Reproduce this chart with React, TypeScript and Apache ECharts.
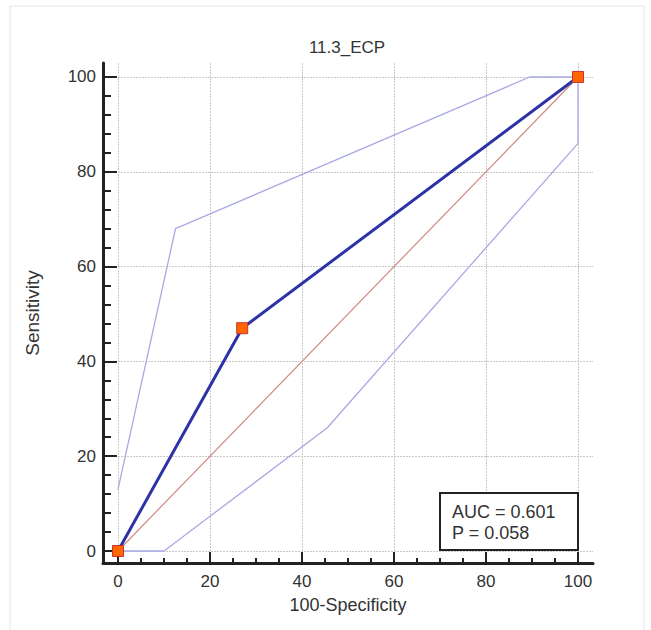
import React, { useEffect, useRef } from "react";
import * as echarts from "echarts";

// ---- data ----
const chartTitle = "11.3_ECP";
const xName = "100-Specificity";
const yName = "Sensitivity";

const rocX = [0, 27, 100];
const rocY = [0, 47, 100];

const upperX = [0, 12.5, 89.5, 100];
const upperY = [13, 68, 100, 100];

const lowerX = [0, 10, 45.5, 100, 100];
const lowerY = [0, 0, 26, 86, 100];

const diagX = [0, 100];
const diagY = [0, 100];

const xMajor = [0, 20, 40, 60, 80, 100];
const xMinor = [5, 10, 15, 25, 30, 35, 45, 50, 55, 65, 70, 75, 85, 90, 95];
const yMajor = [0, 20, 40, 60, 80, 100];
const yMinor = [4, 8, 12, 16, 24, 28, 32, 36, 44, 48, 52, 56, 64, 68, 72, 76, 84, 88, 92, 96];

const aucLine = "AUC = 0.601";
const pLine = "P = 0.058";

const FONT = "'Liberation Sans', Arial, sans-serif";

function pairs(xs: number[], ys: number[]) {
  return xs.map((x, i) => [x, ys[i]]);
}

export default function App() {
  const ref = useRef<HTMLDivElement>(null);

  useEffect(() => {
    if (!ref.current) return;
    const chart = echarts.init(ref.current, undefined, { renderer: "svg" });

    const X_MIN = -3.26, X_MAX = 103.26;
    const Y_MIN = -2.53, Y_MAX = 102.95;
    const gridRect = { left: 103, top: 63, width: 490, height: 500 };

    const option: any = {
      animation: false,
      backgroundColor: "#ffffff",
      grid: [
        { ...gridRect, containLabel: false },
        { ...gridRect, containLabel: false },
      ],
      xAxis: [
        {
          type: "value",
          gridIndex: 0,
          min: X_MIN,
          max: X_MAX,
          name: xName,
          nameLocation: "middle",
          nameGap: 33,
          nameTextStyle: { fontFamily: FONT, fontSize: 18, color: "#333" },
          axisLine: { show: true, onZero: false, lineStyle: { color: "#222", width: 3 } },
          axisTick: { show: true, inside: true, length: 11, customValues: xMajor, lineStyle: { color: "#222", width: 2 } },
          axisLabel: { show: true, customValues: xMajor, margin: 10, fontFamily: FONT, fontSize: 17, color: "#333" },
          splitLine: { show: true, lineStyle: { color: "#c8c8c8", type: [2, 1], width: 1 } },
          minorTick: { show: false },
        },
        {
          type: "value",
          gridIndex: 1,
          min: X_MIN,
          max: X_MAX,
          axisLine: { show: false, onZero: false },
          axisTick: { show: true, inside: true, length: 5, customValues: xMinor, lineStyle: { color: "#222", width: 2 } },
          axisLabel: { show: false },
          splitLine: { show: false },
        },
      ],
      yAxis: [
        {
          type: "value",
          gridIndex: 0,
          min: Y_MIN,
          max: Y_MAX,
          name: yName,
          nameLocation: "middle",
          nameGap: 61,
          nameRotate: 90,
          nameTextStyle: { fontFamily: FONT, fontSize: 19, color: "#333" },
          axisLine: { show: true, onZero: false, lineStyle: { color: "#222", width: 3 } },
          axisTick: { show: true, inside: true, length: 14, customValues: yMajor, lineStyle: { color: "#222", width: 2 } },
          axisLabel: { show: true, customValues: yMajor, margin: 7, fontFamily: FONT, fontSize: 17, color: "#333" },
          splitLine: { show: true, lineStyle: { color: "#c8c8c8", type: [2, 1], width: 1 } },
        },
        {
          type: "value",
          gridIndex: 1,
          min: Y_MIN,
          max: Y_MAX,
          axisLine: { show: false, onZero: false },
          axisTick: { show: true, inside: true, length: 8, customValues: yMinor, lineStyle: { color: "#222", width: 2 } },
          axisLabel: { show: false },
          splitLine: { show: false },
        },
      ],
      series: [
        {
          type: "line",
          name: "upper",
          xAxisIndex: 0,
          yAxisIndex: 0,
          data: pairs(upperX, upperY),
          symbol: "none",
          lineStyle: { color: "#a9a9e3", width: 1.3 },
          z: 3,
        },
        {
          type: "line",
          name: "lower",
          xAxisIndex: 0,
          yAxisIndex: 0,
          data: pairs(lowerX, lowerY),
          symbol: "none",
          lineStyle: { color: "#a9a9e3", width: 1.3 },
          z: 3,
        },
        {
          type: "line",
          name: "diag",
          xAxisIndex: 0,
          yAxisIndex: 0,
          data: pairs(diagX, diagY),
          symbol: "none",
          lineStyle: { color: "#d08a80", width: 1.2 },
          z: 4,
        },
        {
          type: "line",
          name: "roc",
          xAxisIndex: 0,
          yAxisIndex: 0,
          data: pairs(rocX, rocY),
          symbol: "rect",
          symbolSize: 11,
          showAllSymbol: true,
          itemStyle: { color: "#ff6600", borderColor: "#cc3333", borderWidth: 1 },
          lineStyle: { color: "#2d33a6", width: 3 },
          z: 5,
        },
      ],
      graphic: [
        {
          type: "rect",
          shape: { x: 10, y: 6, width: 634, height: 640 },
          style: { fill: "none", stroke: "#e6e6e6", lineWidth: 1 },
          silent: true,
          z: 0,
        },
        {
          type: "text",
          x: 347,
          y: 47,
          style: {
            text: chartTitle,
            fontFamily: FONT,
            fontSize: 17,
            fill: "#333",
            textAlign: "center",
            textVerticalAlign: "middle",
          },
          z: 10,
        },
        {
          type: "rect",
          shape: { x: 440, y: 493, width: 138, height: 57 },
          style: { fill: "#ffffff", stroke: "#222", lineWidth: 2 },
          z: 10,
        },
        {
          type: "text",
          x: 452,
          y: 512,
          style: {
            text: aucLine,
            fontFamily: FONT,
            fontSize: 18,
            fill: "#333",
            textAlign: "left",
            textVerticalAlign: "middle",
          },
          z: 11,
        },
        {
          type: "text",
          x: 452,
          y: 533,
          style: {
            text: pLine,
            fontFamily: FONT,
            fontSize: 18,
            fill: "#333",
            textAlign: "left",
            textVerticalAlign: "middle",
          },
          z: 11,
        },
      ],
    };

    chart.setOption(option);
    return () => chart.dispose();
  }, []);

  return (
    <div
      ref={ref}
      style={{ position: "fixed", left: 0, top: 0, width: 651, height: 630, background: "#fff" }}
    />
  );
}
